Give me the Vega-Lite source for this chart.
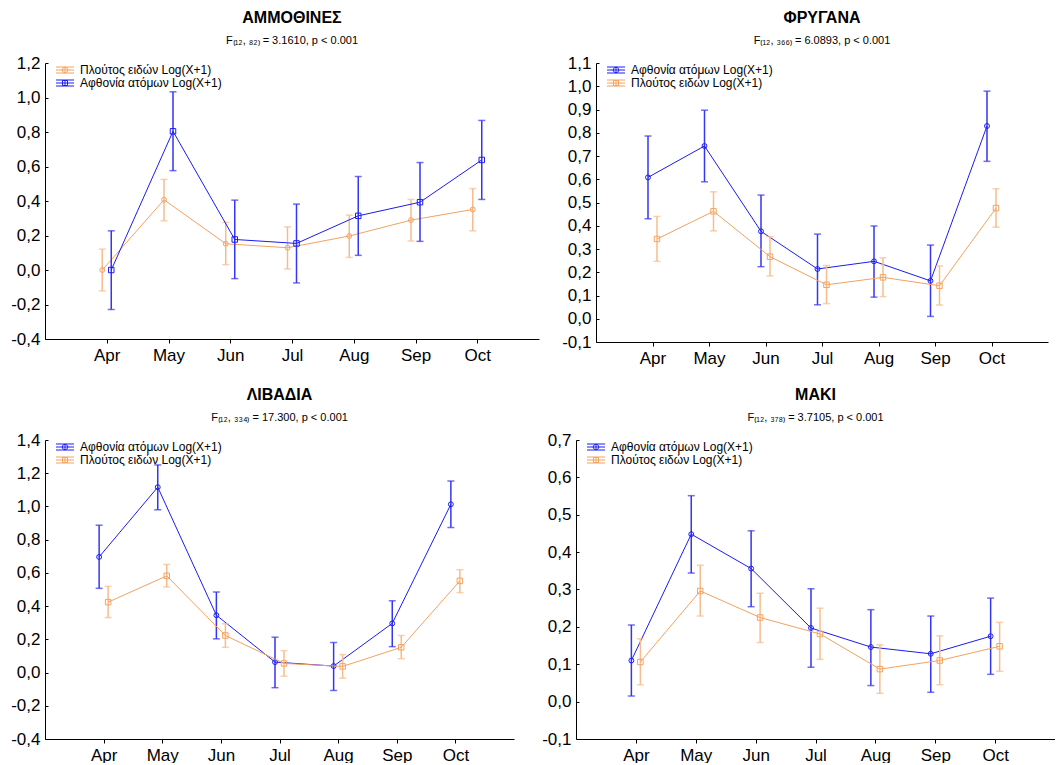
{
  "$schema": "https://vega.github.io/schema/vega-lite/v6.json",
  "background": "white",
  "padding": {"left": 10, "top": 10, "right": 0, "bottom": 0},
  "datasets": {
    "ammothines": [
      {"series": "Πλούτος ειδών Log(X+1)", "month": "Apr", "mean": 0.000, "lo": -0.121, "hi": 0.121},
      {"series": "Πλούτος ειδών Log(X+1)", "month": "May", "mean": 0.407, "lo": 0.285, "hi": 0.525},
      {"series": "Πλούτος ειδών Log(X+1)", "month": "Jun", "mean": 0.152, "lo": 0.031, "hi": 0.276},
      {"series": "Πλούτος ειδών Log(X+1)", "month": "Jul", "mean": 0.129, "lo": 0.006, "hi": 0.250},
      {"series": "Πλούτος ειδών Log(X+1)", "month": "Aug", "mean": 0.197, "lo": 0.073, "hi": 0.318},
      {"series": "Πλούτος ειδών Log(X+1)", "month": "Sep", "mean": 0.289, "lo": 0.168, "hi": 0.409},
      {"series": "Πλούτος ειδών Log(X+1)", "month": "Oct", "mean": 0.351, "lo": 0.227, "hi": 0.472},
      {"series": "Αφθονία ατόμων Log(X+1)", "month": "Apr", "mean": 0.000, "lo": -0.229, "hi": 0.227},
      {"series": "Αφθονία ατόμων Log(X+1)", "month": "May", "mean": 0.804, "lo": 0.576, "hi": 1.033},
      {"series": "Αφθονία ατόμων Log(X+1)", "month": "Jun", "mean": 0.177, "lo": -0.050, "hi": 0.405},
      {"series": "Αφθονία ατόμων Log(X+1)", "month": "Jul", "mean": 0.154, "lo": -0.075, "hi": 0.382},
      {"series": "Αφθονία ατόμων Log(X+1)", "month": "Aug", "mean": 0.314, "lo": 0.085, "hi": 0.542},
      {"series": "Αφθονία ατόμων Log(X+1)", "month": "Sep", "mean": 0.393, "lo": 0.166, "hi": 0.623},
      {"series": "Αφθονία ατόμων Log(X+1)", "month": "Oct", "mean": 0.638, "lo": 0.409, "hi": 0.867}
    ],
    "frygana": [
      {"series": "Αφθονία ατόμων Log(X+1)", "month": "Apr", "mean": 0.608, "lo": 0.430, "hi": 0.786},
      {"series": "Αφθονία ατόμων Log(X+1)", "month": "May", "mean": 0.743, "lo": 0.589, "hi": 0.897},
      {"series": "Αφθονία ατόμων Log(X+1)", "month": "Jun", "mean": 0.376, "lo": 0.224, "hi": 0.532},
      {"series": "Αφθονία ατόμων Log(X+1)", "month": "Jul", "mean": 0.214, "lo": 0.060, "hi": 0.364},
      {"series": "Αφθονία ατόμων Log(X+1)", "month": "Aug", "mean": 0.247, "lo": 0.093, "hi": 0.399},
      {"series": "Αφθονία ατόμων Log(X+1)", "month": "Sep", "mean": 0.163, "lo": 0.010, "hi": 0.317},
      {"series": "Αφθονία ατόμων Log(X+1)", "month": "Oct", "mean": 0.829, "lo": 0.677, "hi": 0.979},
      {"series": "Πλούτος ειδών Log(X+1)", "month": "Apr", "mean": 0.343, "lo": 0.247, "hi": 0.440},
      {"series": "Πλούτος ειδών Log(X+1)", "month": "May", "mean": 0.462, "lo": 0.378, "hi": 0.546},
      {"series": "Πλούτος ειδών Log(X+1)", "month": "Jun", "mean": 0.267, "lo": 0.184, "hi": 0.353},
      {"series": "Πλούτος ειδών Log(X+1)", "month": "Jul", "mean": 0.146, "lo": 0.065, "hi": 0.229},
      {"series": "Πλούτος ειδών Log(X+1)", "month": "Aug", "mean": 0.178, "lo": 0.095, "hi": 0.262},
      {"series": "Πλούτος ειδών Log(X+1)", "month": "Sep", "mean": 0.142, "lo": 0.059, "hi": 0.227},
      {"series": "Πλούτος ειδών Log(X+1)", "month": "Oct", "mean": 0.476, "lo": 0.394, "hi": 0.559}
    ],
    "livadia": [
      {"series": "Αφθονία ατόμων Log(X+1)", "month": "Apr", "mean": 0.696, "lo": 0.507, "hi": 0.887},
      {"series": "Αφθονία ατόμων Log(X+1)", "month": "May", "mean": 1.116, "lo": 0.980, "hi": 1.250},
      {"series": "Αφθονία ατόμων Log(X+1)", "month": "Jun", "mean": 0.345, "lo": 0.203, "hi": 0.485},
      {"series": "Αφθονία ατόμων Log(X+1)", "month": "Jul", "mean": 0.063, "lo": -0.091, "hi": 0.213},
      {"series": "Αφθονία ατόμων Log(X+1)", "month": "Aug", "mean": 0.039, "lo": -0.108, "hi": 0.181},
      {"series": "Αφθονία ατόμων Log(X+1)", "month": "Sep", "mean": 0.296, "lo": 0.156, "hi": 0.432},
      {"series": "Αφθονία ατόμων Log(X+1)", "month": "Oct", "mean": 1.013, "lo": 0.873, "hi": 1.153},
      {"series": "Πλούτος ειδών Log(X+1)", "month": "Apr", "mean": 0.424, "lo": 0.331, "hi": 0.519},
      {"series": "Πλούτος ειδών Log(X+1)", "month": "May", "mean": 0.582, "lo": 0.515, "hi": 0.651},
      {"series": "Πλούτος ειδών Log(X+1)", "month": "Jun", "mean": 0.223, "lo": 0.152, "hi": 0.294},
      {"series": "Πλούτος ειδών Log(X+1)", "month": "Jul", "mean": 0.055, "lo": -0.022, "hi": 0.132},
      {"series": "Πλούτος ειδών Log(X+1)", "month": "Aug", "mean": 0.037, "lo": -0.034, "hi": 0.108},
      {"series": "Πλούτος ειδών Log(X+1)", "month": "Sep", "mean": 0.152, "lo": 0.083, "hi": 0.223},
      {"series": "Πλούτος ειδών Log(X+1)", "month": "Oct", "mean": 0.552, "lo": 0.481, "hi": 0.619}
    ],
    "maki": [
      {"series": "Αφθονία ατόμων Log(X+1)", "month": "Apr", "mean": 0.110, "lo": 0.015, "hi": 0.205},
      {"series": "Αφθονία ατόμων Log(X+1)", "month": "May", "mean": 0.448, "lo": 0.344, "hi": 0.551},
      {"series": "Αφθονία ατόμων Log(X+1)", "month": "Jun", "mean": 0.356, "lo": 0.254, "hi": 0.457},
      {"series": "Αφθονία ατόμων Log(X+1)", "month": "Jul", "mean": 0.197, "lo": 0.092, "hi": 0.302},
      {"series": "Αφθονία ατόμων Log(X+1)", "month": "Aug", "mean": 0.146, "lo": 0.043, "hi": 0.246},
      {"series": "Αφθονία ατόμων Log(X+1)", "month": "Sep", "mean": 0.128, "lo": 0.025, "hi": 0.229},
      {"series": "Αφθονία ατόμων Log(X+1)", "month": "Oct", "mean": 0.175, "lo": 0.073, "hi": 0.277},
      {"series": "Πλούτος ειδών Log(X+1)", "month": "Apr", "mean": 0.106, "lo": 0.045, "hi": 0.168},
      {"series": "Πλούτος ειδών Log(X+1)", "month": "May", "mean": 0.296, "lo": 0.229, "hi": 0.365},
      {"series": "Πλούτος ειδών Log(X+1)", "month": "Jun", "mean": 0.225, "lo": 0.158, "hi": 0.290},
      {"series": "Πλούτος ειδών Log(X+1)", "month": "Jul", "mean": 0.181, "lo": 0.113, "hi": 0.250},
      {"series": "Πλούτος ειδών Log(X+1)", "month": "Aug", "mean": 0.087, "lo": 0.022, "hi": 0.152},
      {"series": "Πλούτος ειδών Log(X+1)", "month": "Sep", "mean": 0.110, "lo": 0.045, "hi": 0.176},
      {"series": "Πλούτος ειδών Log(X+1)", "month": "Oct", "mean": 0.148, "lo": 0.081, "hi": 0.212}
    ]
  },
  "config": {
    "font": "Liberation Sans",
    "view": {"stroke": null},
    "axis": {"grid": false, "domainColor": "#000000", "domainWidth": 1, "tickColor": "#000000", "tickWidth": 1, "labelColor": "#000000", "labelFont": "Liberation Sans", "labelFontSize": 17},
    "axisX": {"tickSize": 4, "labelPadding": 4, "labelAngle": 0},
    "axisY": {"tickSize": -3, "labelPadding": 8},
    "title": {"font": "Liberation Sans", "fontSize": 16, "fontWeight": "bold", "color": "#000000", "subtitleFont": "Liberation Sans", "subtitleFontSize": 11, "subtitleColor": "#000000", "subtitlePadding": 9, "offset": 8, "anchor": "middle"},
    "legend": {"labelFont": "Liberation Sans", "labelFontSize": 12, "labelColor": "#000000", "symbolSize": 100, "symbolStrokeWidth": 1, "rowPadding": 1, "labelOffset": 9, "padding": 0}
  },
  "resolve": {"scale": {"color": "independent"}, "legend": {"color": "independent"}},
  "spacing": 21,
  "vconcat": [
    {
      "spacing": 22,
      "resolve": {"scale": {"color": "independent"}, "legend": {"color": "independent"}},
      "hconcat": [
        {
          "width": 494, "height": 276,
          "title": {"text": "ΑΜΜΟΘΙΝΕΣ", "subtitle": "F₍₁₂, ₈₂₎ = 3.1610, p < 0.001"},
          "data": {"name": "ammothines"},
          "encoding": {
            "x": {"field": "month", "type": "ordinal", "sort": ["Apr", "May", "Jun", "Jul", "Aug", "Sep", "Oct"], "scale": {"type": "point", "padding": 1}, "title": null},
            "y": {"field": "mean", "type": "quantitative", "title": null, "scale": {"domain": [-0.4, 1.2], "nice": false, "zero": false}, "axis": {"values": [-0.4, -0.2, 0, 0.2, 0.4, 0.6, 0.8, 1, 1.2], "labelExpr": "(datum.value < -0.001 ? '-' : '') + replace(format(abs(datum.value), '.1f'), '.', ',')"}},
            "color": {"field": "series", "type": "nominal", "scale": {"domain": ["Πλούτος ειδών Log(X+1)", "Αφθονία ατόμων Log(X+1)"], "range": ["#F4A25E", "#1C1CF2"]}, "legend": {"title": null, "orient": "none", "legendX": 14, "legendY": 1, "encode": {"symbols": {"update": {"fill": {"value": "transparent"}, "shape": {"signal": "datum.index === 0 ? 'M-1.8,0H1.8M-1.8,-0.6H1.8M-1.8,0.6H1.8M0,-0.6V0.6M0.55,0A0.55,0.55,0,1,1,-0.55,0A0.55,0.55,0,1,1,0.55,0' : 'M-1.8,0H1.8M-1.8,-0.6H1.8M-1.8,0.6H1.8M0,-0.6V0.6M-0.5,-0.5H0.5V0.5H-0.5Z'"}}}}}}
          },
          "layer": [
            {
              "transform": [{"filter": {"field": "series", "equal": "Πλούτος ειδών Log(X+1)"}}],
              "layer": [
                {"mark": {"type": "rule", "strokeWidth": 1.5, "xOffset": -4.5}, "encoding": {"y": {"field": "lo", "type": "quantitative", "title": null, "scale": {"domain": [-0.4, 1.2], "nice": false, "zero": false}}, "y2": {"field": "hi"}, "color": {"value": "#F8BC8C"}}},
                {"mark": {"type": "tick", "orient": "horizontal", "size": 7, "thickness": 1.5, "xOffset": -4.5}, "encoding": {"y": {"field": "lo", "type": "quantitative", "title": null, "scale": {"domain": [-0.4, 1.2], "nice": false, "zero": false}}, "color": {"value": "#F8BC8C"}}},
                {"mark": {"type": "tick", "orient": "horizontal", "size": 7, "thickness": 1.5, "xOffset": -4.5}, "encoding": {"y": {"field": "hi", "type": "quantitative", "title": null, "scale": {"domain": [-0.4, 1.2], "nice": false, "zero": false}}, "color": {"value": "#F8BC8C"}}},
                {"mark": {"type": "line", "strokeWidth": 1, "xOffset": -4.5}, "encoding": {}},
                {"mark": {"type": "point", "shape": "circle", "filled": false, "size": 24, "strokeWidth": 1, "opacity": 1, "xOffset": -4.5}, "encoding": {}}
              ]
            },
            {
              "transform": [{"filter": {"field": "series", "equal": "Αφθονία ατόμων Log(X+1)"}}],
              "layer": [
                {"mark": {"type": "rule", "strokeWidth": 1.5, "xOffset": 4.5}, "encoding": {"y": {"field": "lo", "type": "quantitative", "title": null, "scale": {"domain": [-0.4, 1.2], "nice": false, "zero": false}}, "y2": {"field": "hi"}, "color": {"value": "#3535F5"}}},
                {"mark": {"type": "tick", "orient": "horizontal", "size": 7, "thickness": 1.5, "xOffset": 4.5}, "encoding": {"y": {"field": "lo", "type": "quantitative", "title": null, "scale": {"domain": [-0.4, 1.2], "nice": false, "zero": false}}, "color": {"value": "#3535F5"}}},
                {"mark": {"type": "tick", "orient": "horizontal", "size": 7, "thickness": 1.5, "xOffset": 4.5}, "encoding": {"y": {"field": "hi", "type": "quantitative", "title": null, "scale": {"domain": [-0.4, 1.2], "nice": false, "zero": false}}, "color": {"value": "#3535F5"}}},
                {"mark": {"type": "line", "strokeWidth": 1, "xOffset": 4.5}, "encoding": {}},
                {"mark": {"type": "point", "shape": "square", "filled": false, "size": 30, "strokeWidth": 1, "opacity": 1, "xOffset": 4.5}, "encoding": {}}
              ]
            }
          ]
        },
        {
          "width": 452, "height": 279,
          "title": {"text": "ΦΡΥΓΑΝΑ", "subtitle": "F₍₁₂, ₃₆₆₎ = 6.0893, p < 0.001"},
          "data": {"name": "frygana"},
          "encoding": {
            "x": {"field": "month", "type": "ordinal", "sort": ["Apr", "May", "Jun", "Jul", "Aug", "Sep", "Oct"], "scale": {"type": "point", "padding": 1}, "title": null},
            "y": {"field": "mean", "type": "quantitative", "title": null, "scale": {"domain": [-0.1, 1.1], "nice": false, "zero": false}, "axis": {"values": [-0.1, 0, 0.1, 0.2, 0.3, 0.4, 0.5, 0.6, 0.7, 0.8, 0.9, 1, 1.1], "labelExpr": "(datum.value < -0.001 ? '-' : '') + replace(format(abs(datum.value), '.1f'), '.', ',')"}},
            "color": {"field": "series", "type": "nominal", "scale": {"domain": ["Αφθονία ατόμων Log(X+1)", "Πλούτος ειδών Log(X+1)"], "range": ["#1C1CF2", "#F4A25E"]}, "legend": {"title": null, "orient": "none", "legendX": 14, "legendY": 1, "encode": {"symbols": {"update": {"fill": {"value": "transparent"}, "shape": {"signal": "datum.index === 0 ? 'M-1.8,0H1.8M-1.8,-0.6H1.8M-1.8,0.6H1.8M0,-0.6V0.6M0.55,0A0.55,0.55,0,1,1,-0.55,0A0.55,0.55,0,1,1,0.55,0' : 'M-1.8,0H1.8M-1.8,-0.6H1.8M-1.8,0.6H1.8M0,-0.6V0.6M-0.5,-0.5H0.5V0.5H-0.5Z'"}}}}}}
          },
          "layer": [
            {
              "transform": [{"filter": {"field": "series", "equal": "Αφθονία ατόμων Log(X+1)"}}],
              "layer": [
                {"mark": {"type": "rule", "strokeWidth": 1.5, "xOffset": -4.5}, "encoding": {"y": {"field": "lo", "type": "quantitative", "title": null, "scale": {"domain": [-0.1, 1.1], "nice": false, "zero": false}}, "y2": {"field": "hi"}, "color": {"value": "#3535F5"}}},
                {"mark": {"type": "tick", "orient": "horizontal", "size": 7, "thickness": 1.5, "xOffset": -4.5}, "encoding": {"y": {"field": "lo", "type": "quantitative", "title": null, "scale": {"domain": [-0.1, 1.1], "nice": false, "zero": false}}, "color": {"value": "#3535F5"}}},
                {"mark": {"type": "tick", "orient": "horizontal", "size": 7, "thickness": 1.5, "xOffset": -4.5}, "encoding": {"y": {"field": "hi", "type": "quantitative", "title": null, "scale": {"domain": [-0.1, 1.1], "nice": false, "zero": false}}, "color": {"value": "#3535F5"}}},
                {"mark": {"type": "line", "strokeWidth": 1, "xOffset": -4.5}, "encoding": {}},
                {"mark": {"type": "point", "shape": "circle", "filled": false, "size": 24, "strokeWidth": 1, "opacity": 1, "xOffset": -4.5}, "encoding": {}}
              ]
            },
            {
              "transform": [{"filter": {"field": "series", "equal": "Πλούτος ειδών Log(X+1)"}}],
              "layer": [
                {"mark": {"type": "rule", "strokeWidth": 1.5, "xOffset": 4.5}, "encoding": {"y": {"field": "lo", "type": "quantitative", "title": null, "scale": {"domain": [-0.1, 1.1], "nice": false, "zero": false}}, "y2": {"field": "hi"}, "color": {"value": "#F8BC8C"}}},
                {"mark": {"type": "tick", "orient": "horizontal", "size": 7, "thickness": 1.5, "xOffset": 4.5}, "encoding": {"y": {"field": "lo", "type": "quantitative", "title": null, "scale": {"domain": [-0.1, 1.1], "nice": false, "zero": false}}, "color": {"value": "#F8BC8C"}}},
                {"mark": {"type": "tick", "orient": "horizontal", "size": 7, "thickness": 1.5, "xOffset": 4.5}, "encoding": {"y": {"field": "hi", "type": "quantitative", "title": null, "scale": {"domain": [-0.1, 1.1], "nice": false, "zero": false}}, "color": {"value": "#F8BC8C"}}},
                {"mark": {"type": "line", "strokeWidth": 1, "xOffset": 4.5}, "encoding": {}},
                {"mark": {"type": "point", "shape": "square", "filled": false, "size": 30, "strokeWidth": 1, "opacity": 1, "xOffset": 4.5}, "encoding": {}}
              ]
            }
          ]
        }
      ]
    },
    {
      "spacing": 27,
      "resolve": {"scale": {"color": "independent"}, "legend": {"color": "independent"}},
      "hconcat": [
        {
          "width": 469, "height": 299,
          "title": {"text": "ΛΙΒΑΔΙΑ", "subtitle": "F₍₁₂, ₃₃₄₎ = 17.300, p < 0.001"},
          "data": {"name": "livadia"},
          "encoding": {
            "x": {"field": "month", "type": "ordinal", "sort": ["Apr", "May", "Jun", "Jul", "Aug", "Sep", "Oct"], "scale": {"type": "point", "padding": 1}, "title": null},
            "y": {"field": "mean", "type": "quantitative", "title": null, "scale": {"domain": [-0.4, 1.4], "nice": false, "zero": false}, "axis": {"values": [-0.4, -0.2, 0, 0.2, 0.4, 0.6, 0.8, 1, 1.2, 1.4], "labelExpr": "(datum.value < -0.001 ? '-' : '') + replace(format(abs(datum.value), '.1f'), '.', ',')"}},
            "color": {"field": "series", "type": "nominal", "scale": {"domain": ["Αφθονία ατόμων Log(X+1)", "Πλούτος ειδών Log(X+1)"], "range": ["#1C1CF2", "#F4A25E"]}, "legend": {"title": null, "orient": "none", "legendX": 14, "legendY": 1, "encode": {"symbols": {"update": {"fill": {"value": "transparent"}, "shape": {"signal": "datum.index === 0 ? 'M-1.8,0H1.8M-1.8,-0.6H1.8M-1.8,0.6H1.8M0,-0.6V0.6M0.55,0A0.55,0.55,0,1,1,-0.55,0A0.55,0.55,0,1,1,0.55,0' : 'M-1.8,0H1.8M-1.8,-0.6H1.8M-1.8,0.6H1.8M0,-0.6V0.6M-0.5,-0.5H0.5V0.5H-0.5Z'"}}}}}}
          },
          "layer": [
            {
              "transform": [{"filter": {"field": "series", "equal": "Αφθονία ατόμων Log(X+1)"}}],
              "layer": [
                {"mark": {"type": "rule", "strokeWidth": 1.5, "xOffset": -4.5}, "encoding": {"y": {"field": "lo", "type": "quantitative", "title": null, "scale": {"domain": [-0.4, 1.4], "nice": false, "zero": false}}, "y2": {"field": "hi"}, "color": {"value": "#3535F5"}}},
                {"mark": {"type": "tick", "orient": "horizontal", "size": 7, "thickness": 1.5, "xOffset": -4.5}, "encoding": {"y": {"field": "lo", "type": "quantitative", "title": null, "scale": {"domain": [-0.4, 1.4], "nice": false, "zero": false}}, "color": {"value": "#3535F5"}}},
                {"mark": {"type": "tick", "orient": "horizontal", "size": 7, "thickness": 1.5, "xOffset": -4.5}, "encoding": {"y": {"field": "hi", "type": "quantitative", "title": null, "scale": {"domain": [-0.4, 1.4], "nice": false, "zero": false}}, "color": {"value": "#3535F5"}}},
                {"mark": {"type": "line", "strokeWidth": 1, "xOffset": -4.5}, "encoding": {}},
                {"mark": {"type": "point", "shape": "circle", "filled": false, "size": 24, "strokeWidth": 1, "opacity": 1, "xOffset": -4.5}, "encoding": {}}
              ]
            },
            {
              "transform": [{"filter": {"field": "series", "equal": "Πλούτος ειδών Log(X+1)"}}],
              "layer": [
                {"mark": {"type": "rule", "strokeWidth": 1.5, "xOffset": 4.5}, "encoding": {"y": {"field": "lo", "type": "quantitative", "title": null, "scale": {"domain": [-0.4, 1.4], "nice": false, "zero": false}}, "y2": {"field": "hi"}, "color": {"value": "#F8BC8C"}}},
                {"mark": {"type": "tick", "orient": "horizontal", "size": 7, "thickness": 1.5, "xOffset": 4.5}, "encoding": {"y": {"field": "lo", "type": "quantitative", "title": null, "scale": {"domain": [-0.4, 1.4], "nice": false, "zero": false}}, "color": {"value": "#F8BC8C"}}},
                {"mark": {"type": "tick", "orient": "horizontal", "size": 7, "thickness": 1.5, "xOffset": 4.5}, "encoding": {"y": {"field": "hi", "type": "quantitative", "title": null, "scale": {"domain": [-0.4, 1.4], "nice": false, "zero": false}}, "color": {"value": "#F8BC8C"}}},
                {"mark": {"type": "line", "strokeWidth": 1, "xOffset": 4.5}, "encoding": {}},
                {"mark": {"type": "point", "shape": "square", "filled": false, "size": 30, "strokeWidth": 1, "opacity": 1, "xOffset": 4.5}, "encoding": {}}
              ]
            }
          ]
        },
        {
          "width": 479, "height": 299,
          "title": {"text": "ΜΑΚΙ", "subtitle": "F₍₁₂, ₃₇₈₎ = 3.7105, p < 0.001"},
          "data": {"name": "maki"},
          "encoding": {
            "x": {"field": "month", "type": "ordinal", "sort": ["Apr", "May", "Jun", "Jul", "Aug", "Sep", "Oct"], "scale": {"type": "point", "padding": 1}, "title": null},
            "y": {"field": "mean", "type": "quantitative", "title": null, "scale": {"domain": [-0.1, 0.7], "nice": false, "zero": false}, "axis": {"values": [-0.1, 0, 0.1, 0.2, 0.3, 0.4, 0.5, 0.6, 0.7], "labelExpr": "(datum.value < -0.001 ? '-' : '') + replace(format(abs(datum.value), '.1f'), '.', ',')"}},
            "color": {"field": "series", "type": "nominal", "scale": {"domain": ["Αφθονία ατόμων Log(X+1)", "Πλούτος ειδών Log(X+1)"], "range": ["#1C1CF2", "#F4A25E"]}, "legend": {"title": null, "orient": "none", "legendX": 14, "legendY": 1, "encode": {"symbols": {"update": {"fill": {"value": "transparent"}, "shape": {"signal": "datum.index === 0 ? 'M-1.8,0H1.8M-1.8,-0.6H1.8M-1.8,0.6H1.8M0,-0.6V0.6M0.55,0A0.55,0.55,0,1,1,-0.55,0A0.55,0.55,0,1,1,0.55,0' : 'M-1.8,0H1.8M-1.8,-0.6H1.8M-1.8,0.6H1.8M0,-0.6V0.6M-0.5,-0.5H0.5V0.5H-0.5Z'"}}}}}}
          },
          "layer": [
            {
              "transform": [{"filter": {"field": "series", "equal": "Αφθονία ατόμων Log(X+1)"}}],
              "layer": [
                {"mark": {"type": "rule", "strokeWidth": 1.5, "xOffset": -4.5}, "encoding": {"y": {"field": "lo", "type": "quantitative", "title": null, "scale": {"domain": [-0.1, 0.7], "nice": false, "zero": false}}, "y2": {"field": "hi"}, "color": {"value": "#3535F5"}}},
                {"mark": {"type": "tick", "orient": "horizontal", "size": 7, "thickness": 1.5, "xOffset": -4.5}, "encoding": {"y": {"field": "lo", "type": "quantitative", "title": null, "scale": {"domain": [-0.1, 0.7], "nice": false, "zero": false}}, "color": {"value": "#3535F5"}}},
                {"mark": {"type": "tick", "orient": "horizontal", "size": 7, "thickness": 1.5, "xOffset": -4.5}, "encoding": {"y": {"field": "hi", "type": "quantitative", "title": null, "scale": {"domain": [-0.1, 0.7], "nice": false, "zero": false}}, "color": {"value": "#3535F5"}}},
                {"mark": {"type": "line", "strokeWidth": 1, "xOffset": -4.5}, "encoding": {}},
                {"mark": {"type": "point", "shape": "circle", "filled": false, "size": 24, "strokeWidth": 1, "opacity": 1, "xOffset": -4.5}, "encoding": {}}
              ]
            },
            {
              "transform": [{"filter": {"field": "series", "equal": "Πλούτος ειδών Log(X+1)"}}],
              "layer": [
                {"mark": {"type": "rule", "strokeWidth": 1.5, "xOffset": 4.5}, "encoding": {"y": {"field": "lo", "type": "quantitative", "title": null, "scale": {"domain": [-0.1, 0.7], "nice": false, "zero": false}}, "y2": {"field": "hi"}, "color": {"value": "#F8BC8C"}}},
                {"mark": {"type": "tick", "orient": "horizontal", "size": 7, "thickness": 1.5, "xOffset": 4.5}, "encoding": {"y": {"field": "lo", "type": "quantitative", "title": null, "scale": {"domain": [-0.1, 0.7], "nice": false, "zero": false}}, "color": {"value": "#F8BC8C"}}},
                {"mark": {"type": "tick", "orient": "horizontal", "size": 7, "thickness": 1.5, "xOffset": 4.5}, "encoding": {"y": {"field": "hi", "type": "quantitative", "title": null, "scale": {"domain": [-0.1, 0.7], "nice": false, "zero": false}}, "color": {"value": "#F8BC8C"}}},
                {"mark": {"type": "line", "strokeWidth": 1, "xOffset": 4.5}, "encoding": {}},
                {"mark": {"type": "point", "shape": "square", "filled": false, "size": 30, "strokeWidth": 1, "opacity": 1, "xOffset": 4.5}, "encoding": {}}
              ]
            }
          ]
        }
      ]
    }
  ]
}
